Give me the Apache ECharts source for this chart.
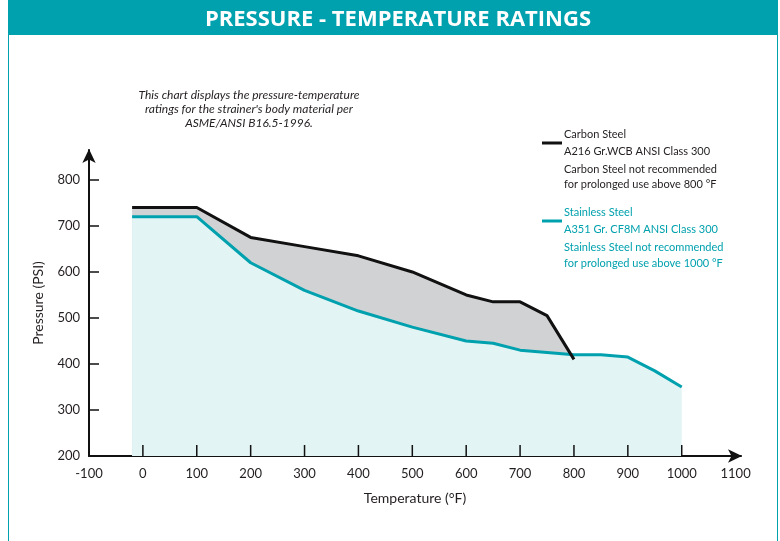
<!DOCTYPE html>
<html>
<head>
<meta charset="utf-8">
<script src="https://cdn.jsdelivr.net/npm/echarts@6/dist/echarts.min.js"></script>
<style>
  html, body { margin: 0; padding: 0; background: #fff; }
  #chart { width: 780px; height: 541px; }
</style>
</head>
<body>
<div id="chart"></div>
<script>
// ratings (ASME B16.5-1996, class 300)
const carbonTemps = [-20, 100, 200, 300, 400, 500, 600, 650, 700, 750, 800]
const carbonPressures = [740, 740, 675, 655, 635, 600, 550, 535, 535, 505, 410]
const stainlessTemps = [-20, 100, 200, 300, 400, 500, 600, 650, 700, 750, 800, 850, 900, 950, 1000]
const stainlessPressures = [720, 720, 620, 560, 515, 480, 450, 445, 430, 425, 420, 420, 415, 385, 350]

const tempLabels = [-100, 0, 100, 200, 300, 400, 500, 600, 700, 800, 900, 1000, 1100]
const tempTicks = [0, 100, 200, 300, 400, 500, 600, 700, 800, 900, 1000]
const pressureLabels = [200, 300, 400, 500, 600, 700, 800]
const pressureTicks = [300, 400, 500, 600, 700, 800]

const TEAL = '#00a1ae'
const INK = '#231f20'
const FONT = 'Lato'
const Y_MIN = 200

const pairs = (xs, ys) => xs.map((x, i) => [x, ys[i]])

const chart = echarts.init(document.getElementById('chart'))

const legendText = (y, text, color) => ({
  type: 'text',
  left: 564,
  top: y - 6,
  style: { text, fill: color, font: '11px ' + FONT }
})

const axisLine = {
  onZero: false,
  lineStyle: { color: '#111', width: 2 },
  symbol: ['none', 'arrow'],
  symbolSize: [10, 14],
  symbolOffset: [0, 1]
}

// temperature ticks stand up into the plot, over the shaded areas
const renderTick = (params, api) => {
  const p = api.coord([api.value(0), api.value(1)])
  return {
    type: 'line',
    z2: 100,
    shape: { x1: p[0], y1: p[1], x2: p[0], y2: p[1] - 11 },
    style: { stroke: '#111', lineWidth: 1.5 }
  }
}

chart.setOption({
  animation: false,
  textStyle: { fontFamily: FONT },
  title: [
    {
      text: 'PRESSURE - TEMPERATURE RATINGS',
      left: 393,
      top: 4,
      textAlign: 'center',
      textStyle: { color: '#fff', fontSize: 22, fontWeight: 'bold', fontFamily: 'Open Sans' }
    },
    {
      text: 'This chart displays the pressure-temperature\nratings for the strainer\'s body material per\nASME/ANSI B16.5-1996.',
      left: 244,
      top: 83,
      textAlign: 'center',
      textStyle: {
        color: INK, fontSize: 12, fontStyle: 'italic', fontWeight: 'normal',
        lineHeight: 14, fontFamily: FONT
      }
    }
  ],
  graphic: [
    { type: 'rect', z: -1, shape: { x: 8, y: 0, width: 770, height: 35 }, style: { fill: TEAL } },
    { type: 'line', shape: { x1: 8.5, y1: 35, x2: 8.5, y2: 541 }, style: { stroke: TEAL, lineWidth: 1 } },
    { type: 'line', shape: { x1: 777.5, y1: 35, x2: 777.5, y2: 541 }, style: { stroke: TEAL, lineWidth: 1 } },
    { type: 'line', shape: { x1: 542, y1: 143, x2: 562, y2: 143 }, style: { stroke: '#111', lineWidth: 3 } },
    legendText(135, 'Carbon Steel', INK),
    legendText(152, 'A216 Gr.WCB ANSI Class 300', INK),
    legendText(170, 'Carbon Steel not recommended', INK),
    legendText(185, 'for prolonged use above 800 °F', INK),
    { type: 'line', shape: { x1: 542, y1: 221, x2: 562, y2: 221 }, style: { stroke: TEAL, lineWidth: 3 } },
    legendText(213, 'Stainless Steel', TEAL),
    legendText(230, 'A351 Gr. CF8M ANSI Class 300', TEAL),
    legendText(248, 'Stainless Steel not recommended', TEAL),
    legendText(264, 'for prolonged use above 1000 °F', TEAL)
  ],
  grid: { left: 89, right: 39, top: 150, bottom: 85 },
  xAxis: {
    type: 'value',
    min: -100,
    max: 1110,
    name: 'Temperature (°F)',
    nameLocation: 'middle',
    nameGap: 35,
    nameTextStyle: { color: INK, fontSize: 14 },
    splitLine: { show: false },
    axisLine: axisLine,
    axisTick: { show: false },
    axisLabel: { customValues: tempLabels, formatter: v => String(v), color: INK, fontSize: 13, margin: 11 }
  },
  yAxis: {
    type: 'value',
    min: Y_MIN,
    max: 865,
    name: 'Pressure (PSI)',
    nameLocation: 'middle',
    nameGap: 44,
    nameRotate: 90,
    nameTextStyle: { color: INK, fontSize: 14 },
    splitLine: { show: false },
    axisLine: axisLine,
    axisTick: { inside: true, length: 10, customValues: pressureTicks, lineStyle: { color: '#111', width: 1.5 } },
    axisLabel: { customValues: pressureLabels, formatter: v => String(v), color: INK, fontSize: 13, margin: 9 }
  },
  series: [
    {
      name: 'Carbon Steel fill',
      type: 'line',
      data: pairs(carbonTemps, carbonPressures),
      symbol: 'none',
      lineStyle: { width: 0 },
      areaStyle: { color: '#d1d2d4', opacity: 1, origin: 'start' },
      z: 1
    },
    {
      name: 'Stainless Steel',
      type: 'line',
      data: pairs(stainlessTemps, stainlessPressures),
      symbol: 'none',
      lineStyle: { color: TEAL, width: 3 },
      areaStyle: { color: '#e3f4f4', opacity: 1, origin: 'start' },
      z: 2
    },
    {
      name: 'Carbon Steel',
      type: 'line',
      data: pairs(carbonTemps, carbonPressures),
      symbol: 'none',
      lineStyle: { color: '#111', width: 3 },
      z: 3
    },
    {
      name: 'x ticks',
      type: 'custom',
      data: tempTicks.map(t => [t, Y_MIN]),
      encode: { x: 0, y: 1 },
      renderItem: renderTick,
      clip: false,
      silent: true,
      z: 10
    }
  ]
})
</script>
</body>
</html>
